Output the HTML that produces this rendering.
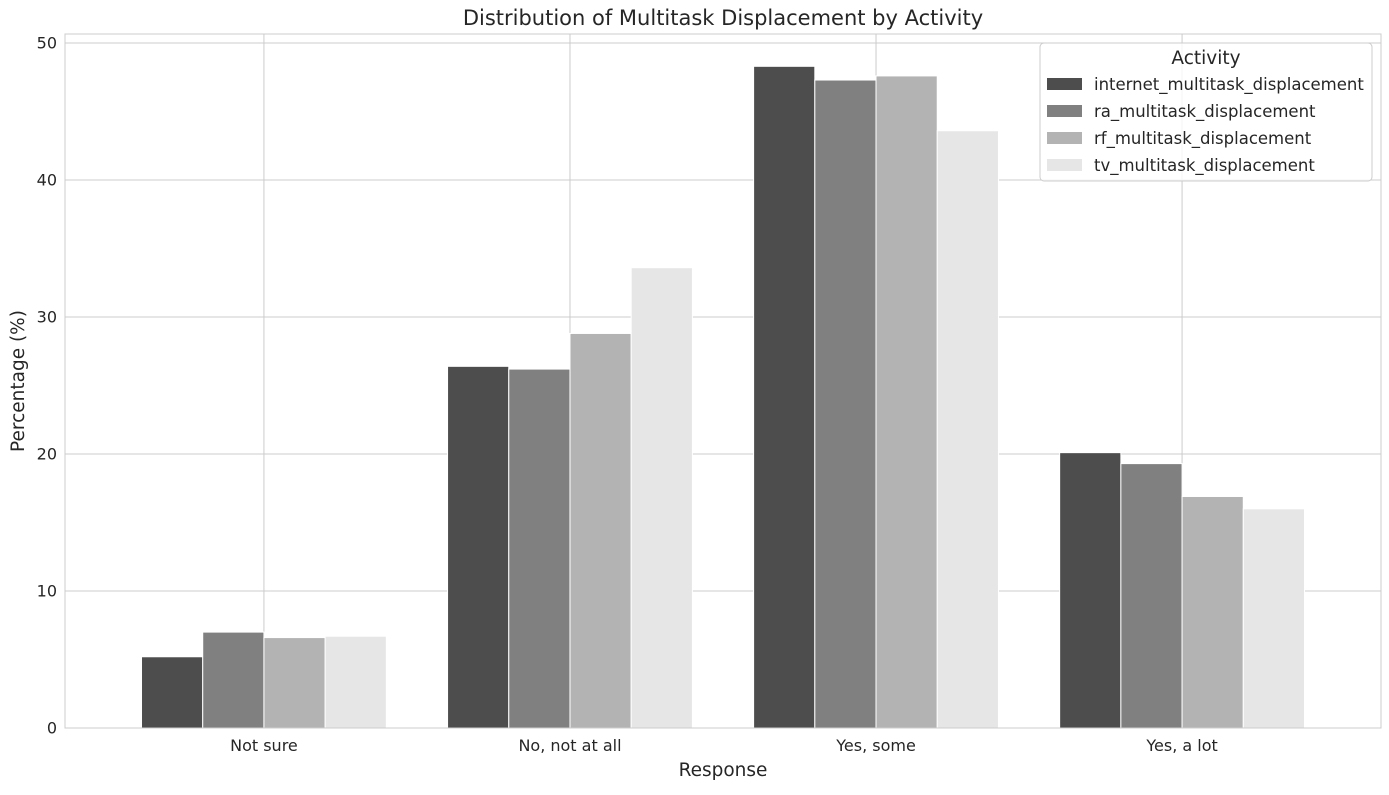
<!DOCTYPE html>
<html><head><meta charset="utf-8"><style>
body{margin:0;background:#fff;font-family:"Liberation Sans","DejaVu Sans",sans-serif;}
svg text{font-family:"DejaVu Sans","Liberation Sans",sans-serif;fill:#262626;}
</style></head><body>
<svg id="chart" width="1389" height="790" xmlns="http://www.w3.org/2000/svg"></svg>
<script>
const categories = ["Not sure","No, not at all","Yes, some","Yes, a lot"];
const seriesNames = ["internet_multitask_displacement","ra_multitask_displacement","rf_multitask_displacement","tv_multitask_displacement"];
const internetVals = [5.2, 26.4, 48.3, 20.1];
const raVals = [7.0, 26.2, 47.3, 19.3];
const rfVals = [6.6, 28.8, 47.6, 16.9];
const tvVals = [6.7, 33.6, 43.6, 16.0];
const yTicks = [0,10,20,30,40,50];
const colors = ["#4d4d4d","#808080","#b3b3b3","#e6e6e6"];
const series = [internetVals, raVals, rfVals, tvVals];

const svg = document.getElementById('chart');
const NS = "http://www.w3.org/2000/svg";
const L=65, R=1381, T=34, B=728;
const xMin=-0.65, xMax=categories.length-1+0.65, yMax=50.66;
const xs = v => L + (v - xMin) / (xMax - xMin) * (R - L);
const ys = v => B - v / yMax * (B - T);
function mk(tag, attrs, text){const e=document.createElementNS(NS,tag);for(const k in attrs)e.setAttribute(k,attrs[k]);if(text!==undefined)e.textContent=text;svg.appendChild(e);return e;}

yTicks.forEach(t=>{
  const g=mk('line',{x1:L,x2:R,y1:ys(t),y2:ys(t),stroke:'#cccccc','stroke-width':1});
  
  
  const tx=mk('text',{x:L-8,y:ys(t)+5.5,'text-anchor':'end','font-size':16},t);
  
  
});
categories.forEach((c,i)=>{
  const g=mk('line',{x1:xs(i),x2:xs(i),y1:T,y2:B,stroke:'#cccccc','stroke-width':1});
  
  
  const tx=mk('text',{x:xs(i),y:B+23,'text-anchor':'middle','font-size':16},c);
  
  
});
const groupW=0.8, bw=groupW/series.length;
series.forEach((vals,s)=>{
  vals.forEach((v,i)=>{
    const x0=xs(i-groupW/2+s*bw), x1=xs(i-groupW/2+(s+1)*bw);
    const r=mk('rect',{x:x0,y:ys(v),width:x1-x0,height:ys(0)-ys(v),fill:colors[s],stroke:'#fff','stroke-width':1});
    
    
  });
});
const fr=mk('rect',{x:L,y:T,width:R-L,height:B-T,fill:'none',stroke:'#cccccc','stroke-width':1});


const ti=mk('text',{x:(L+R)/2,y:25,'text-anchor':'middle','font-size':21},'Distribution of Multitask Displacement by Activity');


const xt=mk('text',{x:(L+R)/2,y:776,'text-anchor':'middle','font-size':18.5},'Response');


const yt=mk('text',{x:0,y:0,'text-anchor':'middle','font-size':18.5,transform:'translate(24,'+((T+B)/2)+') rotate(-90)'},'Percentage (%)');


const lg=mk('rect',{x:1040,y:43,width:332,height:138,rx:4,fill:'#fff','fill-opacity':0.8,stroke:'#cccccc'});


const lt=mk('text',{x:1206,y:64,'text-anchor':'middle','font-size':18.5},'Activity');


seriesNames.forEach((n,s)=>{
  const y=84+s*27;
  const sw=mk('rect',{x:1047,y:y-6,width:35,height:12,fill:colors[s]});
  
  
  const t=mk('text',{x:1094,y:y+6,'font-size':16.5},n);
  
  
});
</script>
</body></html>
